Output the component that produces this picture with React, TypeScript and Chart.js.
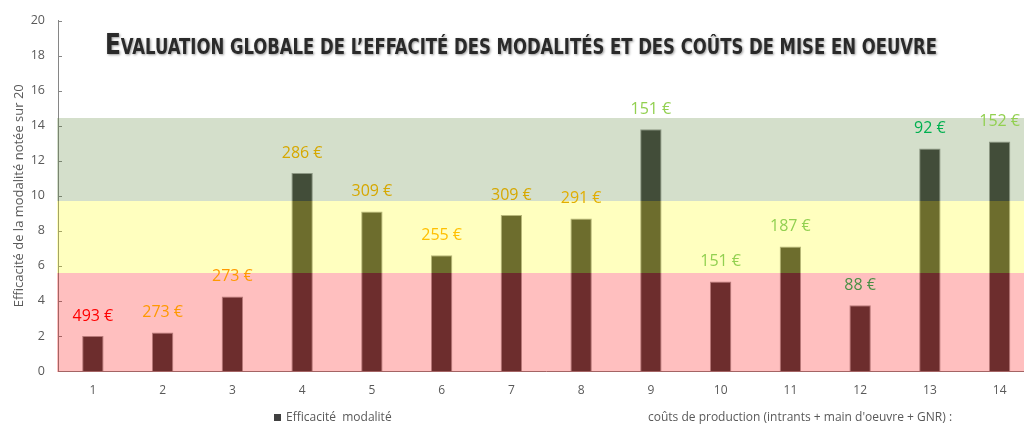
import React, { useEffect, useRef } from "react";
import { Chart, registerables } from "chart.js";

Chart.register(...registerables);

// ---- data ----
const categories = ["1", "2", "3", "4", "5", "6", "7", "8", "9", "10", "11", "12", "13", "14"];
const efficacite = [2.0, 2.2, 4.25, 11.3, 9.1, 6.6, 8.9, 8.7, 13.8, 5.1, 7.1, 3.75, 12.7, 13.1];
const couts = [493, 273, 273, 286, 309, 255, 309, 291, 151, 151, 187, 88, 92, 152];
const coutColors = [
  "#FF0000", "#FF9900", "#FF9900", "#D6A800", "#D6A800", "#FFC000", "#D6A800",
  "#E2AE00", "#92D050", "#92D050", "#92D050", "#4A8F45", "#00B050", "#92D050",
];
const bandLimits = [0, 5.6, 9.7, 14.45];
const bandColors = ["rgba(255,0,0,0.25)", "rgba(255,255,0,0.25)", "rgba(83,127,47,0.25)"];
const yMin = 0;
const yMax = 20;
const yStep = 2;

const titleFirst = "E";
const titleRest = "VALUATION GLOBALE DE L\u2019EFFACITÉ DES MODALITÉS ET DES COÛTS DE MISE EN OEUVRE";
const yTitle = "Efficacité de la modalité notée sur 20";
const legendSerie = "Efficacité  modalité";
const legendCouts = "coûts de production (intrants + main d'oeuvre + GNR) :";

const GRAY = "#595959";
const AXIS = "#868686";

const overlayPlugin = {
  id: "overlay",
  beforeDatasetsDraw(chart: any) {
    const { ctx, chartArea, scales } = chart;
    const y = scales.y;
    ctx.save();
    ctx.strokeStyle = AXIS;
    ctx.lineWidth = 1;
    for (let v = yMin; v <= yMax; v += yStep) {
      const py = Math.round(y.getPixelForValue(v)) + 0.5;
      ctx.beginPath();
      ctx.moveTo(chartArea.left, py);
      ctx.lineTo(chartArea.left + 4, py);
      ctx.stroke();
    }
    ctx.restore();
  },
  afterDatasetsDraw(chart: any) {
    const { ctx, chartArea, scales } = chart;
    const y = scales.y;
    ctx.save();
    for (let i = 0; i < bandColors.length; i++) {
      const top = Math.round(y.getPixelForValue(bandLimits[i + 1]));
      let bottom = Math.round(y.getPixelForValue(bandLimits[i]));
      if (i === 0) bottom += 1;
      ctx.fillStyle = bandColors[i];
      ctx.fillRect(chartArea.left - 1, top, chart.width - chartArea.left + 1, bottom - top);
    }
    // cost labels
    ctx.font = "16px 'Open Sans', sans-serif";
    ctx.textAlign = "center";
    ctx.textBaseline = "middle";
    const meta = chart.getDatasetMeta(0);
    meta.data.forEach((bar: any, i: number) => {
      ctx.fillStyle = coutColors[i];
      ctx.fillText(`${couts[i]} €`, bar.x, bar.y - 20);
    });
    ctx.restore();
  },
  afterDraw(chart: any) {
    const { ctx } = chart;
    // title
    ctx.save();
    const fam = "'DejaVu Sans Condensed', 'Liberation Sans Narrow', 'DejaVu Sans', sans-serif";
    const big = `bold 29px ${fam}`;
    const small = `bold 20.6px ${fam}`;
    ctx.font = big;
    const w1 = ctx.measureText(titleFirst).width;
    ctx.font = small;
    const w2 = ctx.measureText(titleRest).width;
    const sx = 832 / (w1 + w2);
    ctx.translate(105, 54);
    ctx.scale(sx, 1);
    ctx.textAlign = "left";
    ctx.textBaseline = "alphabetic";
    ctx.fillStyle = "#2a2a2a";
    ctx.shadowColor = "rgba(0,0,0,0.4)";
    ctx.shadowBlur = 2.5;
    ctx.shadowOffsetX = 1;
    ctx.shadowOffsetY = 1;
    ctx.font = big;
    ctx.fillText(titleFirst, 0, 0);
    ctx.font = small;
    ctx.fillText(titleRest, w1, 0);
    ctx.restore();

    // legend
    ctx.save();
    ctx.fillStyle = "#404040";
    ctx.fillRect(274, 414, 7, 7);
    ctx.fillStyle = GRAY;
    ctx.font = "12px 'Open Sans', sans-serif";
    ctx.textAlign = "left";
    ctx.textBaseline = "middle";
    ctx.fillText(legendSerie, 286, 418);
    ctx.fillText(legendCouts, 648, 418);
    ctx.restore();
  },
};

export default function App() {
  const ref = useRef<HTMLCanvasElement | null>(null);

  useEffect(() => {
    if (!ref.current) return;
    Chart.defaults.font.family = "'Open Sans', sans-serif";
    const chart = new Chart(ref.current, {
      type: "bar",
      data: {
        labels: categories,
        datasets: [
          {
            label: legendSerie,
            data: efficacite,
            backgroundColor: "#3D3D3D",
            borderColor: "rgba(150,150,150,0.9)",
            borderWidth: 1,
            barPercentage: 0.307,
            categoryPercentage: 1,
          },
        ],
      },
      options: {
        responsive: false,
        animation: false,
        devicePixelRatio: 1,
        layout: { padding: { top: 13, right: 5.5, bottom: 0, left: 0 } },
        plugins: {
          legend: { display: false },
          tooltip: { enabled: false },
          title: { display: false },
        },
        scales: {
          x: {
            grid: { display: false, drawTicks: false },
            border: { display: true, color: AXIS, width: 1 },
            ticks: { color: GRAY, font: { size: 12 }, padding: 12 },
            afterFit: (s: any) => {
              s.height = 61;
            },
          },
          y: {
            min: yMin,
            max: yMax,
            grid: { display: false, drawTicks: false },
            border: { display: true, color: AXIS, width: 1 },
            ticks: { stepSize: yStep, color: GRAY, font: { size: 12.5 }, padding: 13 },
            title: {
              display: true,
              text: yTitle,
              color: GRAY,
              font: { size: 13 },
              padding: { top: 11, bottom: 0 },
            },
            afterFit: (s: any) => {
              s.width = 58;
            },
          },
        },
      },
      plugins: [overlayPlugin],
    });
    return () => chart.destroy();
  }, []);

  return (
    <div
      style={{
        position: "fixed",
        left: 0,
        top: 0,
        width: 1024,
        height: 432,
        overflow: "hidden",
        background: "#fff",
      }}
    >
      <canvas ref={ref} width={1040} height={432} style={{ display: "block" }} />
    </div>
  );
}
